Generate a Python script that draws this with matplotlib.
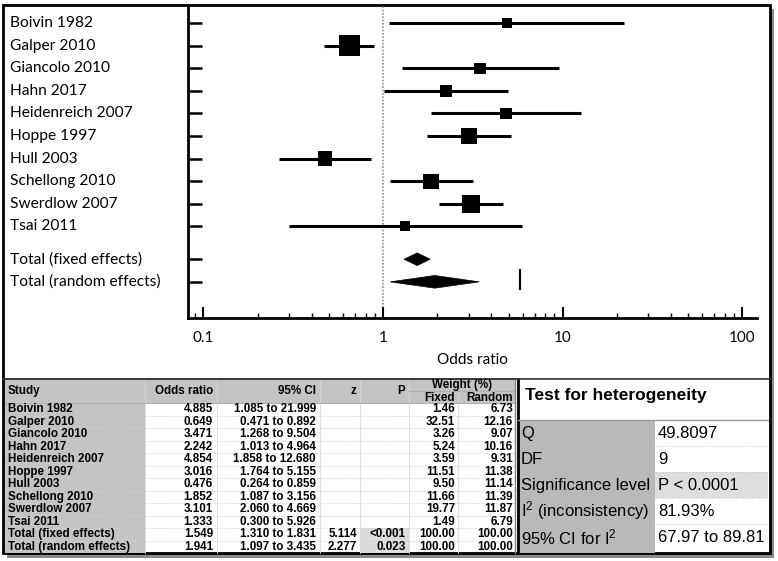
import numpy as np
import matplotlib
matplotlib.use("Agg")
from matplotlib import pyplot
from matplotlib.patches import Rectangle, Polygon
from matplotlib.transforms import blended_transform_factory
from matplotlib.ticker import LogLocator, NullFormatter

# study level data
studies = ["Boivin 1982", "Galper 2010", "Giancolo 2010", "Hahn 2017", "Heidenreich 2007",
           "Hoppe 1997", "Hull 2003", "Schellong 2010", "Swerdlow 2007", "Tsai 2011"]
odds = [4.885, 0.649, 3.471, 2.242, 4.854, 3.016, 0.476, 1.852, 3.101, 1.333]
ci_low = [1.085, 0.471, 1.268, 1.013, 1.858, 1.764, 0.264, 1.087, 2.060, 0.300]
ci_high = [21.999, 0.892, 9.504, 4.964, 12.680, 5.155, 0.859, 3.156, 4.669, 5.926]
w_fixed = [1.46, 32.51, 3.26, 5.24, 3.59, 11.51, 9.50, 11.66, 19.77, 1.49]
w_random = [6.73, 12.16, 9.07, 10.16, 9.31, 11.38, 11.14, 11.39, 11.87, 6.79]

# pooled estimates
totals = ["Total (fixed effects)", "Total (random effects)"]
total_odds = [1.549, 1.941]
total_low = [1.310, 1.097]
total_high = [1.831, 3.435]
total_z = [5.114, 2.277]
total_p = ["<0.001", "0.023"]
total_w_fixed = [100.00, 100.00]
total_w_random = [100.00, 100.00]
random_bar = 5.82  # stray bar drawn on the random effects row

# heterogeneity box
het_labels = ["Q", "DF", "Significance level", "I$^2$ (inconsistency)", "95% CI for I$^2$"]
het_values = ["49.8097", "9", "P < 0.0001", "81.93%", "67.97 to 89.81"]

pyplot.rcParams["mathtext.fontset"] = "custom"
pyplot.rcParams["mathtext.rm"] = "Liberation Sans"
pyplot.rcParams["mathtext.default"] = "regular"

W, H = 778, 561
fig = pyplot.figure(figsize=(W / 100, H / 100), dpi=100)

# overlay in pixel coordinates for frame and tables
ov = fig.add_axes([0, 0, 1, 1])
ov.set_xlim(0, W)
ov.set_ylim(H, 0)
ov.axis("off")
ov.set_zorder(0)

ov.add_patch(Rectangle((7, 9), 767, 549, facecolor="#8a8a8a", edgecolor="none"))
ov.add_patch(Rectangle((3, 5), 767, 548, facecolor="white", edgecolor="black", lw=2))

# forest plot
ax = fig.add_axes([188 / W, 1 - 318 / H, (757 - 188) / W, (318 - 5) / H])
ax.set_zorder(1)
ax.patch.set_alpha(0)

rows = np.arange(len(studies))
total_rows = [len(studies) + 0.45, len(studies) + 1.45]

ax.axvline(1, color="#909090", ls=(0, (1, 1)), lw=1.2, zorder=1)
ax.hlines(rows, ci_low, ci_high, color="black", lw=2.2, zorder=2)
sides = 7 + 2.5 * np.sqrt(w_fixed)
ax.scatter(odds, rows, marker="s", s=(sides * 0.72) ** 2, color="black", zorder=3, linewidths=0)

for y, o, lo, hi in zip(total_rows, total_odds, total_low, total_high):
    ax.add_patch(Polygon([(lo, y), (o, y - 0.28), (hi, y), (o, y + 0.28)],
                         closed=True, facecolor="black", edgecolor="black", lw=0.5, zorder=3))
ax.vlines(random_bar, total_rows[1] - 0.55, total_rows[1] + 0.38, color="black", lw=1.5)

ax.set_xscale("log")
ax.set_xlim(0.082, 121)
ax.set_ylim(13.05, -0.8)
ax.set_xticks([0.1, 1, 10, 100])
ax.set_xticklabels(["0.1", "1", "10", "100"])
ax.xaxis.set_minor_locator(LogLocator(base=10, subs=range(2, 10)))
ax.xaxis.set_minor_formatter(NullFormatter())
ax.set_yticks(list(rows) + total_rows)
ax.set_yticklabels([])
ax.tick_params(axis="x", which="major", direction="in", length=8, width=1.5, labelsize=11, pad=9)
ax.tick_params(axis="x", which="minor", direction="in", length=3.5, width=1)
ax.tick_params(axis="y", direction="in", length=10, width=1.8)
for lab in ax.get_xticklabels():
    lab.set_family("Lato")
ax.set_xlabel("Odds ratio", family="Lato", fontsize=11, labelpad=6)
for side in ["top", "right"]:
    ax.spines[side].set_visible(False)
for side in ["left", "bottom"]:
    ax.spines[side].set_linewidth(2)

trans = blended_transform_factory(fig.transFigure, ax.transData)
for y, name in zip(list(rows) + total_rows, studies + totals):
    ax.text(10 / W, y, name, transform=trans, ha="left", va="center", fontsize=11.2, family="Lato")

# results table
cols = [5, 145, 217, 320, 360, 409, 458, 515]
top, head, row_h = 379, 403, 12.5
n_rows = len(studies) + len(totals)
bottom = head + n_rows * row_h
grey = "#c4c4c4"
ov.add_patch(Rectangle((cols[0], top), cols[-1] - cols[0], head - top, facecolor=grey, edgecolor="none"))
ov.add_patch(Rectangle((cols[0], head), cols[1] - cols[0], bottom - head, facecolor=grey, edgecolor="none"))
for i in range(len(totals)):
    ov.add_patch(Rectangle((cols[4], head + (len(studies) + i) * row_h), cols[5] - cols[4], row_h,
                           facecolor="#dcdcdc", edgecolor="none"))
for i in range(1, n_rows):
    ov.plot([cols[0], cols[-1]], [head + i * row_h] * 2, color="#d0d0d0", lw=0.6, ls=(0, (1, 1)))
for c in cols[1:-1]:
    ov.plot([c, c], [top, bottom], color="#d8d8d8", lw=0.6)
ov.plot([cols[0], cols[-1]], [top, top], color="#555555", lw=1.2)
ov.plot([cols[0], cols[-1]], [head, head], color="#b0b0b0", lw=0.8)
ov.plot([cols[5], cols[-1]], [391, 391], color="#b0b0b0", lw=0.8)
ov.plot([cols[-1], cols[-1]], [top, bottom], color="#808080", lw=1)

tf = dict(family="Liberation Sans", fontsize=8.4, fontweight="bold", va="center")
ov.text(cols[0] + 3, 391, "Study", ha="left", **tf)
ov.text(cols[2] - 4, 391, "Odds ratio", ha="right", **tf)
ov.text(cols[3] - 4, 391, "95% CI", ha="right", **tf)
ov.text(cols[4] - 4, 391, "z", ha="right", **tf)
ov.text(cols[5] - 4, 391, "P", ha="right", **tf)
ov.text((cols[5] + cols[7]) / 2, 385, "Weight (%)", ha="center", **tf)
ov.text(cols[6] - 3, 397.5, "Fixed", ha="right", **tf)
ov.text(cols[7] - 2, 397.5, "Random", ha="right", **tf)

names = studies + totals
ors = odds + total_odds
los = ci_low + total_low
his = ci_high + total_high
wfs = w_fixed + total_w_fixed
wrs = w_random + total_w_random
for i in range(n_rows):
    y = head + (i + 0.5) * row_h
    ov.text(cols[0] + 3, y, names[i], ha="left", **tf)
    ov.text(cols[2] - 4, y, f"{ors[i]:.3f}", ha="right", **tf)
    ov.text(cols[3] - 4, y, f"{los[i]:.3f} to {his[i]:.3f}", ha="right", **tf)
    ov.text(cols[6] - 3, y, f"{wfs[i]:.2f}", ha="right", **tf)
    ov.text(cols[7] - 2, y, f"{wrs[i]:.2f}", ha="right", **tf)
for i in range(len(totals)):
    y = head + (len(studies) + i + 0.5) * row_h
    ov.text(cols[4] - 3, y, f"{total_z[i]:.3f}", ha="right", **tf)
    ov.text(cols[5] - 3, y, total_p[i], ha="right", **tf)

# heterogeneity box
hx0, hx1, hmid = 518, 768, 655
ht, hline, hrow = 379, 420, 26
ov.plot([hx0, hx0], [ht, 553], color="black", lw=2)
ov.text(hx0 + 7, 395, "Test for heterogeneity", ha="left", va="center",
        family="Liberation Sans", fontsize=12.5, fontweight="bold")
ov.add_patch(Rectangle((hx0, hline), hmid - hx0, 553 - hline, facecolor="#b9b9b9", edgecolor="none"))
ov.add_patch(Rectangle((hmid, hline + 2 * hrow), hx1 - hmid, hrow, facecolor="#dedede", edgecolor="none"))
ov.plot([hx0, hx1], [hline, hline], color="#999999", lw=1)
for i in range(1, len(het_labels)):
    ov.plot([hmid, hx1], [hline + i * hrow] * 2, color="#cccccc", lw=0.6, ls=(0, (2, 2)))
for i, (lab, val) in enumerate(zip(het_labels, het_values)):
    y = hline + (i + 0.5) * hrow
    ov.text(hx0 + 3, y, lab, ha="left", va="center", family="Liberation Sans", fontsize=12)
    ov.text(hmid + 3, y, val, ha="left", va="center", family="Liberation Sans", fontsize=12)

ov.plot([3, 770], [379, 379], color="#333333", lw=1.2)

pyplot.savefig("out.png", dpi=100)
